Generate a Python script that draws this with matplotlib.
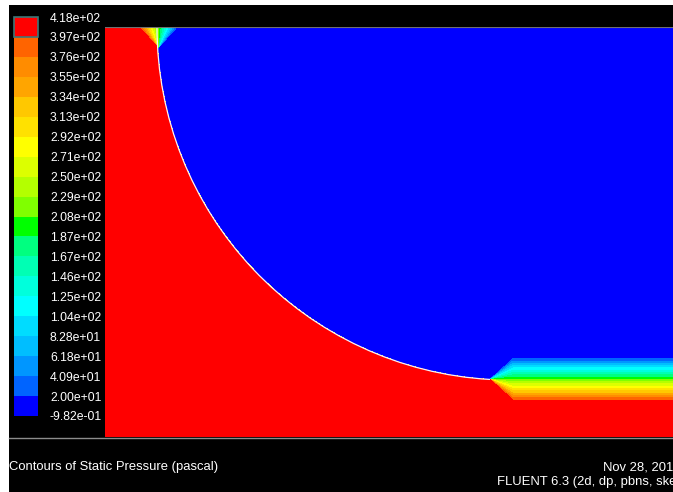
import numpy as np
import matplotlib
matplotlib.use("Agg")
import matplotlib.pyplot as plt
from matplotlib.patches import Arc, Rectangle
from matplotlib.lines import Line2D

plt.rcParams['font.family'] = ['Liberation Sans', 'DejaVu Sans']

# === contour levels (pascal) ===
levels = [-0.982, 20.0, 40.9, 61.8, 82.8, 104, 125, 146, 167, 187,
          208, 229, 250, 271, 292, 313, 334, 355, 376, 397, 418]

# band colours, lowest band first
band_colors = ['#0000ff', '#0064ff', '#0096ff', '#00beff', '#00dcff',
               '#00ffff', '#00ffdc', '#00ffb4', '#00ff80', '#00ff00',
               '#80ff00', '#b4ff00', '#dcff00', '#ffff00', '#ffe100',
               '#ffc800', '#ffa500', '#ff8c00', '#ff6400', '#ff0000']

# === geometry (mm) ===
domain_w = 568
domain_h = 410
circle_c = (405, 410)     # centre of the curved wall
circle_r = 353
top_apex = (53, 389)      # fan where the arc meets the top wall
step_x = 385              # arc ends here, gap band starts
gap_half = 23             # half height of the gap band

title_left = "Contours of Static Pressure (pascal)"
date_text = "Nov 28, 2012"
solver_text = "FLUENT 6.3 (2d, dp, pbns, ske)"

W, H = 673, 492

# === pressure field ===
x = np.linspace(0, domain_w, 1137)
y = np.linspace(0, domain_h, 821)
X, Y = np.meshgrid(x, y)
cx, cy = circle_c
p_lo, p_hi = levels[0], levels[-1]

inside = (X - cx) ** 2 + (Y - cy) ** 2 < circle_r ** 2
t = np.where(inside, 0.0, 1.0)

# top corner fan
dy = Y - top_apex[1]
fan = dy > 0
t_fan = np.clip(0.5 - 0.5 * (X - top_apex[0]) / np.where(fan, dy, 1.0), 0, 1)
t = np.where(fan, t_fan, t)

# gap at bottom right: fan near the step, then straight bands
step_y = cy - np.sqrt(circle_r ** 2 - (step_x - cx) ** 2)
right = X >= step_x
span = np.maximum(np.minimum(X - step_x, gap_half), 1e-6)
t_gap = np.clip(0.5 + 0.5 * (step_y - Y) / span, 0, 1)
t = np.where(right, t_gap, t)

P = np.clip(p_lo + t * (p_hi - p_lo), p_lo, p_hi)

# === figure ===
fig = plt.figure(figsize=(W / 100, H / 100), dpi=100)
fig.patch.set_facecolor('white')
fig.add_artist(Rectangle((9 / W, 0), 1 - 9 / W, 1 - 5 / H, transform=fig.transFigure,
                         facecolor='black', edgecolor='none', zorder=-5))

ax = fig.add_axes([105 / W, 1 - 437 / H, (W - 105) / W, 410 / H])
ax.set_facecolor('black')
cs = ax.contourf(X, Y, P, levels=levels, colors=band_colors)
theta2 = np.degrees(np.arctan2(step_y - cy, step_x - cx)) % 360
ax.add_patch(Arc(circle_c, 2 * circle_r, 2 * circle_r, theta1=180, theta2=theta2,
                 color='#f4f4ff', lw=0.9))
ax.axhline(domain_h, color='#707070', lw=0.8)
ax.set_xlim(0, domain_w)
ax.set_ylim(0, domain_h)
ax.axis('off')

# === colour legend ===
cax = fig.add_axes([14 / W, 1 - 416 / H, 24 / W, 399 / H])
cb = fig.colorbar(cs, cax=cax, spacing='uniform', ticks=levels)
cb.outline.set_visible(False)
cb.ax.set_yticklabels([f"{v:.2e}" for v in levels])
cb.ax.tick_params(length=0, pad=8.6, labelsize=8.8, labelcolor='white')
cax.add_patch(Rectangle((0, levels[-2]), 1, levels[-1] - levels[-2],
                        facecolor='none', edgecolor='#3c7878', lw=1.2, clip_on=False))

# === bottom caption ===
fig.add_artist(Line2D([9 / W, 1], [1 - 438 / H] * 2, color='#8c8c8c', lw=1,
                      transform=fig.transFigure))
fig.text(9 / W, 1 - 467 / H, title_left, color='white', fontsize=9.4, va='center')
fig.text(603 / W, 1 - 467 / H, date_text, color='white', fontsize=9.4, va='center')
fig.text(497 / W, 1 - 481.5 / H, solver_text, color='white', fontsize=9.4, va='center')

fig.savefig('out.png', dpi=100, facecolor=fig.get_facecolor())
